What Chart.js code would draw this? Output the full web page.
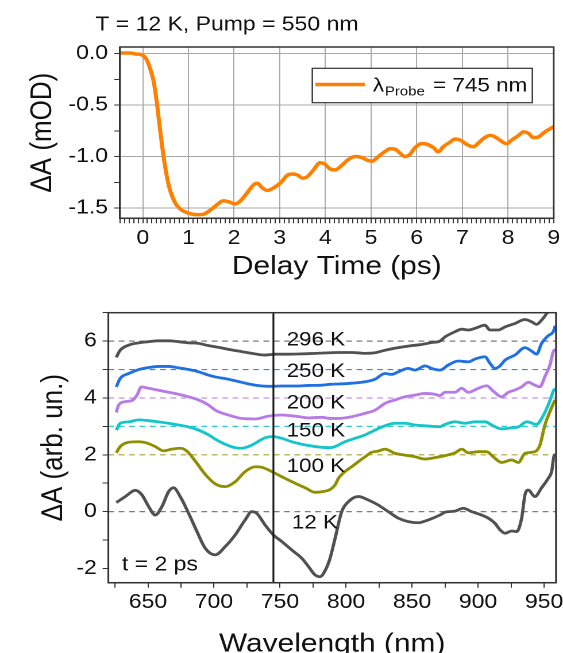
<!DOCTYPE html>
<html>
<head>
<meta charset="utf-8">
<script src="https://cdn.jsdelivr.net/npm/chart.js@4.4.1/dist/chart.umd.min.js"></script>
<style>
  html, body { margin: 0; padding: 0; background: #fff; overflow: hidden; }
  #wrap { position: relative; width: 563px; height: 653px; }
  canvas { position: absolute; left: 0; }
</style>
</head>
<body>
<div id="wrap">
  <canvas id="topChart" width="490" height="290" style="top:0;width:563px;height:290px"></canvas>
  <canvas id="bottomChart" width="490" height="363" style="top:290px;width:563px;height:363px"></canvas>
</div>
<script>
// ---- top panel: kinetics at 745 nm ----
const delayTime = [-0.5, -0.28, -0.15, 0, 0.09, 0.16, 0.24, 0.31, 0.38, 0.455, 0.53, 0.6, 0.71, 0.82, 1.0, 1.18,
  1.33, 1.48, 1.62, 1.77, 1.88, 2.03, 2.14, 2.29, 2.44, 2.51, 2.62, 2.73, 2.88, 3.03, 3.17, 3.28, 3.39, 3.5,
  3.59, 3.74, 3.88, 3.99, 4.10, 4.21, 4.36, 4.50, 4.65, 4.80, 4.94, 5.02, 5.16, 5.31, 5.42, 5.53, 5.64, 5.74,
  5.85, 5.96, 6.11, 6.22, 6.37, 6.47, 6.58, 6.73, 6.84, 6.95, 7.09, 7.24, 7.35, 7.46, 7.61, 7.72, 7.82, 7.97,
  8.08, 8.23, 8.34, 8.45, 8.55, 8.66, 8.81, 8.96, 9.0];
const dA745 = [0.006, 0.006, -0.004, -0.016, -0.065, -0.146, -0.275, -0.486, -0.745, -1.0, -1.2, -1.33, -1.45,
  -1.51, -1.55, -1.565, -1.56, -1.52, -1.47, -1.43, -1.44, -1.46, -1.43, -1.35, -1.27, -1.26, -1.305, -1.33,
  -1.30, -1.25, -1.18, -1.17, -1.18, -1.21, -1.2, -1.13, -1.06, -1.075, -1.12, -1.13, -1.085, -1.03, -1.0,
  -1.01, -1.04, -1.045, -1.0, -0.95, -0.925, -0.93, -0.97, -1.0, -0.98, -0.915, -0.875, -0.88, -0.915, -0.955,
  -0.905, -0.86, -0.83, -0.84, -0.88, -0.905, -0.87, -0.825, -0.795, -0.81, -0.84, -0.875, -0.84, -0.795,
  -0.76, -0.775, -0.815, -0.81, -0.76, -0.72, -0.71];
const timeLabels = [0, 1, 2, 3, 4, 5, 6, 7, 8, 9];
const mODLabels = [0, -0.5, -1, -1.5];

// ---- bottom panel: spectra at t = 2 ps, [wavelength nm, dA] ----
const spec296 = [[626,5.43],[629,5.68],[635.4,5.86],[643,5.94],[650.5,5.98],[658,6.01],[665.6,6.01],[673.2,5.98],
  [680.8,5.94],[688.3,5.92],[696,5.84],[704.7,5.77],[711,5.71],[721,5.63],[731,5.55],[738.7,5.51],[746.3,5.54],
  [756.4,5.54],[766.5,5.55],[776.6,5.57],[787.9,5.59],[794.2,5.60],[804.3,5.60],[814.4,5.57],[822,5.59],
  [829.5,5.68],[839.6,5.77],[849.7,5.84],[857.2,5.88],[864.8,5.95],[871.1,6.0],[875,6.15],[882.5,6.33],
  [887.6,6.42],[892.6,6.39],[897.7,6.45],[905.2,6.56],[909,6.39],[915.3,6.39],[920.4,6.50],[927.9,6.62],
  [935.5,6.76],[940.5,6.68],[944.3,6.59],[948.1,6.74],[951.9,6.97],[954.4,7.15],[959,7.4]];
const spec250 = [[626,4.39],[629,4.69],[635.4,4.86],[643,5.0],[650.5,5.07],[658,5.11],[665.6,5.11],[673.2,5.06],
  [680.8,5.0],[688.3,4.92],[696,4.80],[701,4.74],[711,4.66],[721,4.55],[731,4.45],[741.3,4.41],[751.3,4.42],
  [761.4,4.42],[771.5,4.44],[781.6,4.45],[787.9,4.48],[794.2,4.49],[804.3,4.52],[814.4,4.57],[821.9,4.66],
  [829.5,4.86],[834.5,4.83],[839.6,4.92],[847.2,5.04],[852.2,4.98],[859.8,5.13],[864.8,5.04],[871.2,4.98],
  [877.5,5.16],[885,5.30],[892.6,5.27],[897.7,5.37],[905.2,5.45],[909,5.22],[912.8,5.04],[916.6,5.13],
  [920.4,5.33],[927.9,5.51],[935.5,5.77],[940.5,5.65],[944.3,5.54],[948.1,5.92],[953.1,6.19],[956.9,6.33],
  [958.5,6.54]];
const spec200 = [[626,3.49],[627.8,3.75],[632.8,3.87],[637.9,3.91],[641.7,4.10],[645,4.39],[650.5,4.34],
  [658,4.27],[665.6,4.20],[673.2,4.13],[680.8,4.04],[688.3,3.93],[696,3.75],[701,3.57],[711,3.40],[721,3.28],
  [731,3.26],[741.3,3.36],[751.3,3.40],[761.4,3.36],[771.5,3.30],[781.6,3.32],[787.9,3.28],[794.2,3.28],
  [804.3,3.34],[814.4,3.46],[821.9,3.57],[829.5,3.81],[837,3.93],[844.6,4.04],[852.2,4.10],[859.8,4.16],
  [867.3,4.13],[871,4.08],[875,4.20],[882.5,4.20],[887.6,4.34],[892.6,4.20],[900.2,4.34],[906.5,4.43],
  [911.5,4.24],[917.8,4.04],[922.9,4.20],[927.9,4.28],[933,4.39],[938,4.55],[943,4.45],[946.8,4.39],
  [950.6,4.75],[954.4,5.16],[956.9,5.63],[958.5,5.72]];
const spec150 = [[626,2.87],[629,3.11],[635.4,3.16],[643,3.23],[650.5,3.20],[658,3.16],[665.6,3.11],[673.2,3.05],
  [680.8,2.98],[688.3,2.87],[696,2.70],[701,2.55],[708.5,2.37],[716,2.25],[721,2.23],[728.6,2.34],[738.7,2.60],
  [745,2.64],[751.3,2.58],[758.9,2.46],[766.5,2.37],[776.6,2.29],[787.9,2.25],[791.7,2.29],[799.2,2.46],
  [806.8,2.58],[814.4,2.70],[821.9,2.87],[829.5,3.02],[837.1,3.11],[844.6,3.11],[852.2,3.05],[859.8,3.02],
  [871,2.99],[875,3.07],[882.5,3.16],[890.1,3.11],[897.7,3.16],[905.2,3.16],[911.5,3.02],[917.8,2.91],
  [925.4,2.95],[930.5,2.98],[936.8,3.16],[944.3,3.07],[948.1,3.28],[953.1,3.75],[957.4,4.28],[958.5,4.33]];
const spec100 = [[626,2.07],[629,2.29],[635.4,2.44],[642.9,2.46],[648,2.43],[655.5,2.29],[661.8,2.14],[668.1,2.20],
  [674.4,2.23],[679.5,2.13],[685.8,1.78],[693.4,1.31],[700.9,0.98],[708.5,0.88],[716,1.05],[723.6,1.41],
  [731.2,1.58],[736.2,1.56],[742.5,1.44],[751.3,1.23],[761.4,1.00],[769,0.84],[776.6,0.68],[781.6,0.70],
  [787.9,0.78],[791.7,0.94],[794.2,1.17],[799.2,1.41],[804.3,1.58],[809.3,1.76],[814.4,1.93],[819.4,2.09],
  [824.5,2.13],[829.5,2.20],[837.1,2.05],[844.6,1.99],[852.2,1.93],[859.8,1.85],[867.3,1.90],[875,1.97],
  [882.5,2.07],[887.6,2.20],[892.6,2.07],[900.2,2.11],[906.5,2.11],[911.5,1.93],[917.8,1.73],[925.4,1.82],
  [930.5,1.73],[935.5,2.05],[943,2.11],[946.8,2.34],[950.6,3.05],[954.4,3.52],[957.7,3.87],[958.5,3.93]];
const spec12 = [[626,0.32],[632.8,0.53],[640.4,0.75],[645.4,0.59],[650.5,0.18],[655.5,-0.12],[660.6,0.18],
  [665.6,0.70],[669.4,0.84],[674.4,0.53],[680.8,-0.06],[687.1,-0.70],[693.4,-1.29],[700.9,-1.52],[708.5,-1.23],
  [716,-0.82],[723.6,-0.29],[728.6,0.0],[732.4,-0.06],[738.7,-0.47],[745,-0.82],[751.3,-1.05],[758.9,-1.35],
  [766.5,-1.64],[771.5,-1.93],[776.6,-2.23],[780.3,-2.29],[784.1,-2.08],[787.9,-1.64],[791.7,-0.94],
  [796.7,0.0],[801.8,0.35],[809.3,0.53],[816.9,0.41],[824.5,0.23],[832,0.0],[839.6,-0.23],[847.2,-0.35],
  [854.7,-0.39],[862.3,-0.29],[871.1,-0.12],[875,-0.02],[882.5,0.02],[888.8,0.12],[895.1,0.0],[902.7,-0.12],
  [907.8,-0.23],[912.8,-0.41],[916.6,-0.64],[920.4,-0.76],[925.4,-0.68],[929.2,-0.70],[933,-0.23],[935.5,0.59],
  [938,0.76],[943,0.53],[948.1,0.84],[953.1,1.17],[955.7,1.41],[957.7,1.99],[958.5,2.0]];
const spectra = [spec296, spec250, spec200, spec150, spec100, spec12];
const tempLabels = ['296 K', '250 K', '200 K', '150 K', '100 K', '12 K'];
const tempLabelWl = [755, 755, 755, 755, 755, 759];
const tempLabelDA = [6.04, 4.92, 3.81, 2.84, 1.58, -0.41];
const baselineDA = [6, 5, 4, 3, 2, 0];
const probeWl = 745;
const wlLabels = [650, 700, 750, 800, 850, 900, 950];
const arbLabels = [-2, 0, 2, 4, 6];

// ---- styles ----
const FONT = "'Liberation Sans', Arial, sans-serif";
const TEXT = '#111';
const FRAME = '#333';
const GRID = '#a8a8a8';
const ORANGE = '#ff8000';
const curveColors = ['#515151', '#1f70e3', '#b77ae6', '#14c6c8', '#8f8f00', '#515151'];
const dashColors = ['#7c7c7c', '#3d83e6', '#c195ea', '#33cccc', '#a5a53a', '#7c7c7c'];

Chart.defaults.font.family = FONT;
Chart.defaults.color = TEXT;

function steps(a, b, d) {
  const out = [];
  const n = Math.round((b - a) / d);
  for (let i = 0; i <= n; i++) out.push(+(a + i * d).toFixed(4));
  return out;
}

const framePlugin = {
  id: 'frame',
  afterDraw(chart) {
    const { ctx, chartArea: a } = chart;
    ctx.save();
    ctx.strokeStyle = FRAME;
    ctx.lineWidth = 1.5;
    ctx.strokeRect(a.left, a.top, a.right - a.left, a.bottom - a.top);
    ctx.restore();
  }
};

// title + legend with subscript
const topDecor = {
  id: 'topDecor',
  afterDraw(chart) {
    const ctx = chart.ctx;
    ctx.save();
    ctx.fillStyle = TEXT;
    ctx.textBaseline = 'middle';
    ctx.font = `20px ${FONT}`;
    ctx.fillText('T = 12 K, Pump = 550 nm', 83, 25);

    ctx.fillStyle = '#fff';
    ctx.fillRect(271.8, 68.3, 191.5, 34.4);
    ctx.strokeStyle = FRAME;
    ctx.lineWidth = 1.2;
    ctx.strokeRect(271.8, 68.3, 191.5, 34.4);
    ctx.strokeStyle = ORANGE;
    ctx.lineWidth = 3.5;
    ctx.beginPath();
    ctx.moveTo(274.5, 84.5);
    ctx.lineTo(317.5, 84.5);
    ctx.stroke();

    ctx.fillStyle = TEXT;
    ctx.textBaseline = 'alphabetic';
    ctx.font = `19.5px ${FONT}`;
    ctx.fillText('λ', 324.5, 91.7);
    ctx.font = `13px ${FONT}`;
    ctx.fillText('Probe', 335, 95.5);
    ctx.font = `19.5px ${FONT}`;
    ctx.fillText('= 745 nm', 377, 91.7);
    ctx.restore();
  }
};

new Chart(document.getElementById('topChart'), {
  type: 'line',
  data: {
    datasets: [{
      data: delayTime.map((t, i) => ({ x: t, y: dA745[i] })),
      borderColor: ORANGE,
      borderWidth: 3.5,
      pointRadius: 0,
      cubicInterpolationMode: 'monotone',
      fill: false
    }]
  },
  options: {
    responsive: false,
    devicePixelRatio: 2,
    animation: false,
    layout: { padding: { top: 47, right: 8.1, left: 0, bottom: 0 } },
    plugins: { legend: { display: false }, tooltip: { enabled: false } },
    scales: {
      x: {
        type: 'linear', min: -0.5, max: 9,
        afterBuildTicks: (s) => { s.ticks = steps(-0.5, 9, 0.1).map(v => ({ value: v })); },
        afterFit: (s) => { s.height = 71.7; s.paddingLeft = 0; s.paddingRight = 0; },
        ticks: {
          autoSkip: false, maxRotation: 0, padding: 3,
          font: { size: 20 }, color: TEXT,
          callback: (v) => timeLabels.includes(v) ? String(v) : ''
        },
        grid: {
          color: (c) => c.tick && timeLabels.includes(c.tick.value) ? GRID : 'rgba(0,0,0,0)',
          tickColor: FRAME, tickLength: 5, lineWidth: 1
        },
        border: { color: FRAME, width: 1.5 },
        title: {
          display: true, text: 'Delay Time (ps)', color: TEXT,
          font: { size: 26 }, padding: { top: 0, bottom: 7.5 }
        }
      },
      y: {
        type: 'linear', min: -1.6, max: 0.064,
        afterBuildTicks: (s) => { s.ticks = steps(-1.5, 0, 0.25).map(v => ({ value: v })); },
        afterFit: (s) => { s.width = 104.4; s.paddingTop = 0; s.paddingBottom = 0; },
        ticks: {
          autoSkip: false, padding: 5.4,
          font: { size: 20 }, color: TEXT,
          callback: (v) => mODLabels.includes(v) ? v.toFixed(1) : ''
        },
        grid: {
          color: (c) => c.tick && mODLabels.includes(c.tick.value) ? GRID : 'rgba(0,0,0,0)',
          tickColor: FRAME, tickLength: 5, lineWidth: 1
        },
        border: { color: FRAME, width: 1.5 },
        title: {
          display: true, text: 'ΔA (mOD)', color: TEXT,
          font: { size: 26 }, padding: { top: 21.8, bottom: 0 }
        }
      }
    }
  },
  plugins: [framePlugin, topDecor]
});

// ---- bottom chart ----
const bottomLabels = {
  id: 'bottomLabels',
  afterDatasetsDraw(chart) {
    const { ctx, scales: { x, y } } = chart;
    ctx.save();
    ctx.fillStyle = TEXT;
    ctx.textBaseline = 'middle';
    ctx.textAlign = 'left';
    ctx.font = `19.5px ${FONT}`;
    tempLabels.forEach((t, i) => {
      ctx.fillText(t, x.getPixelForValue(tempLabelWl[i]), y.getPixelForValue(tempLabelDA[i]));
    });
    ctx.font = `20px ${FONT}`;
    ctx.fillText('t = 2 ps', x.getPixelForValue(630.3), y.getPixelForValue(-1.88));
    ctx.restore();
  }
};

const WL_MIN = 620, WL_MAX = 959, DA_MIN = -2.5, DA_MAX = 7;
const bottomSets = [];
baselineDA.forEach((v, i) => {
  bottomSets.push({
    data: [{ x: WL_MIN, y: v }, { x: WL_MAX, y: v }],
    borderColor: dashColors[i], borderWidth: 1.2, borderDash: [5, 4],
    pointRadius: 0, order: 3
  });
});
spectra.forEach((s, i) => {
  bottomSets.push({
    data: s.map(p => ({ x: p[0], y: p[1] })),
    borderColor: curveColors[i], borderWidth: 2.8,
    pointRadius: 0, cubicInterpolationMode: 'monotone', order: 1
  });
});
bottomSets.push({
  data: [{ x: probeWl, y: DA_MIN }, { x: probeWl, y: DA_MAX }],
  borderColor: '#1a1a1a', borderWidth: 1.6, pointRadius: 0, order: 0
});

new Chart(document.getElementById('bottomChart'), {
  type: 'line',
  data: { datasets: bottomSets },
  options: {
    responsive: false,
    devicePixelRatio: 2,
    animation: false,
    layout: { padding: { top: 22.7, right: 6.1, left: 0, bottom: 0 } },
    plugins: { legend: { display: false }, tooltip: { enabled: false } },
    scales: {
      x: {
        type: 'linear', min: WL_MIN, max: WL_MAX,
        afterBuildTicks: (s) => { s.ticks = steps(625, 950, 25).map(v => ({ value: v })); },
        afterFit: (s) => { s.height = 70.3; s.paddingLeft = 0; s.paddingRight = 0; },
        ticks: {
          autoSkip: false, maxRotation: 0, padding: 3,
          font: { size: 20 }, color: TEXT,
          callback: (v) => wlLabels.includes(v) ? String(v) : ''
        },
        grid: { drawOnChartArea: false, tickColor: FRAME, tickLength: 5 },
        border: { color: FRAME, width: 1.5 },
        title: {
          display: true, text: 'Wavelength (nm)', color: TEXT,
          font: { size: 26 }, padding: { top: 0, bottom: -7 }
        }
      },
      y: {
        type: 'linear', min: DA_MIN, max: DA_MAX,
        afterBuildTicks: (s) => { s.ticks = steps(-2, 7, 1).map(v => ({ value: v })); },
        afterFit: (s) => { s.width = 94.3; s.paddingTop = 0; s.paddingBottom = 0; },
        ticks: {
          autoSkip: false, padding: 5,
          font: { size: 20 }, color: TEXT,
          callback: (v) => arbLabels.includes(v) ? String(v) : ''
        },
        grid: { drawOnChartArea: false, tickColor: FRAME, tickLength: 5 },
        border: { color: FRAME, width: 1.5 },
        title: {
          display: true, text: 'ΔA (arb. un.)', color: TEXT,
          font: { size: 26 }, padding: { top: 31.4, bottom: 0 }
        }
      }
    }
  },
  plugins: [framePlugin, bottomLabels]
});
</script>
</body>
</html>
